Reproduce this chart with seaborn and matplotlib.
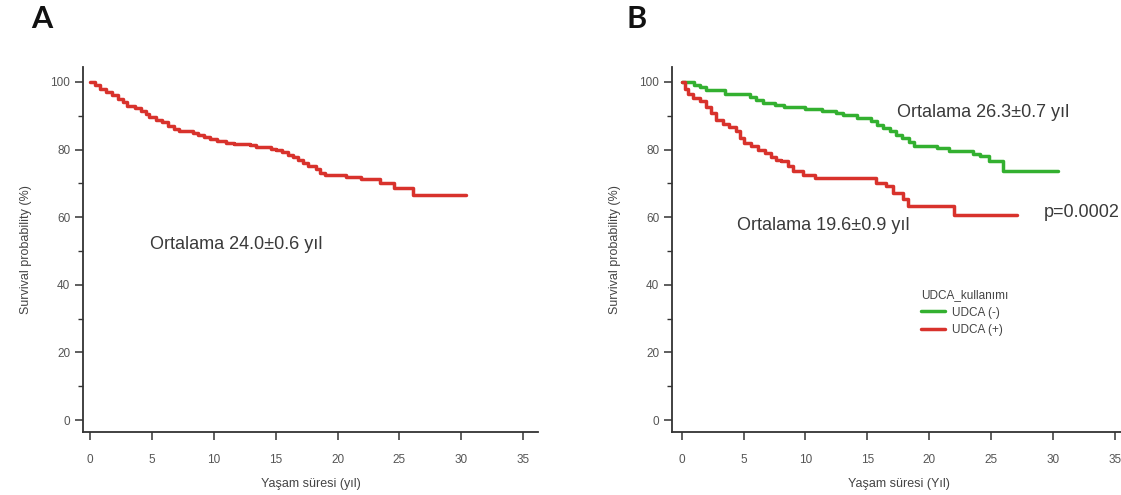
import numpy as np
import pandas as pd
import matplotlib
matplotlib.use("Agg")
import matplotlib.pyplot as plt
from matplotlib.ticker import MultipleLocator
import seaborn as sns

# Kaplan-Meier estimates: overall cohort (years, survival %)
overall_time = [0, 0.4, 0.8, 1.3, 1.8, 2.3, 2.7, 3.0, 3.6, 4.1, 4.5, 4.8, 5.3, 5.8,
                6.3, 6.8, 7.2, 8.3, 8.7, 9.2, 9.7, 10.3, 11.0, 11.6, 12.9, 13.4,
                14.6, 15.0, 15.5, 16.0, 16.4, 16.8, 17.2, 17.6, 18.3, 18.6, 19.0,
                20.7, 21.9, 23.4, 24.6, 26.1, 30.4]
overall_surv = [100, 99, 98, 97, 96, 95, 94, 93, 92.3, 91.5, 90.5, 89.5, 88.7, 88,
                87, 86, 85.4, 85, 84.2, 83.6, 83, 82.5, 82, 81.7, 81.2, 80.8,
                80.3, 79.8, 79.2, 78.5, 77.8, 76.8, 76, 75.2, 74.2, 73.2, 72.4,
                71.8, 71.2, 70.2, 68.5, 66.5, 66.5]

# UDCA (-) group
neg_time = [0, 1.0, 1.5, 2.0, 3.5, 5.5, 6.0, 6.6, 7.5, 8.3, 10.0, 11.3, 12.5, 13.0,
            14.2, 15.3, 15.8, 16.3, 16.8, 17.3, 17.8, 18.4, 18.8, 20.6, 21.6, 23.5,
            24.1, 24.8, 26.0, 30.4]
neg_surv = [100, 99.2, 98.5, 97.6, 96.3, 95.6, 94.6, 93.8, 93.2, 92.7, 92.1, 91.4,
            90.7, 90.2, 89.3, 88.4, 87.3, 86.4, 85.4, 84.4, 83.3, 82.3, 81.0, 80.4,
            79.7, 78.8, 78.0, 76.6, 73.6, 73.6]

# UDCA (+) group
pos_time = [0, 0.3, 0.5, 0.9, 1.5, 2.0, 2.4, 2.8, 3.3, 3.8, 4.4, 4.7, 5.0, 5.6, 6.2,
            6.7, 7.2, 7.6, 8.0, 8.6, 9.0, 9.8, 10.8, 15.7, 16.5, 17.1, 17.9, 18.3,
            22.0, 27.1]
pos_surv = [100, 98, 96.5, 95.2, 94.3, 92.7, 90.8, 88.8, 87.5, 86.8, 85.5, 83.5, 82.0,
            81.0, 80.0, 79.0, 77.8, 77.0, 76.5, 75.0, 73.6, 72.6, 71.7, 70.2, 69.2,
            67.3, 65.3, 63.3, 60.6, 60.6]

group_labels = ["UDCA (-)", "UDCA (+)"]
group_colors = ["#33b030", "#d8322c"]
overall_color = "#d8322c"

sns.set_style("ticks")
plt.rcParams["font.family"] = ["Liberation Sans", "DejaVu Sans"]

AX_COL = "#333333"
TXT_COL = "#444444"
TICK_COL = "#555555"

fig = plt.figure(figsize=(11.21, 4.95), dpi=100)
ax_a = fig.add_axes([0.0738, 0.1273, 0.4062, 0.738])
ax_b = fig.add_axes([0.5992, 0.1273, 0.4062, 0.738])

df_a = pd.DataFrame({"t": overall_time, "S": overall_surv})
sns.lineplot(data=df_a, x="t", y="S", ax=ax_a, color=overall_color, lw=2.5,
             drawstyle="steps-post", estimator=None)

df_b = pd.concat([
    pd.DataFrame({"t": neg_time, "S": neg_surv, "grp": group_labels[0]}),
    pd.DataFrame({"t": pos_time, "S": pos_surv, "grp": group_labels[1]}),
], ignore_index=True)
sns.lineplot(data=df_b, x="t", y="S", hue="grp", hue_order=group_labels,
             palette=group_colors, ax=ax_b, lw=2.5, drawstyle="steps-post",
             estimator=None)

for ax, xlab, xmin in [(ax_a, "Yaşam süresi (yıl)", -0.59),
                       (ax_b, "Yaşam süresi (Yıl)", -0.81)]:
    ax.set_xlim(xmin, xmin + 36.8)
    ax.set_ylim(-3.5, 104.5)
    ax.xaxis.set_major_locator(MultipleLocator(5))
    ax.yaxis.set_major_locator(MultipleLocator(20))
    ax.yaxis.set_minor_locator(MultipleLocator(10))
    for side in ["top", "right"]:
        ax.spines[side].set_visible(False)
    for side in ["left", "bottom"]:
        ax.spines[side].set_color(AX_COL)
        ax.spines[side].set_linewidth(1.3)
    ax.tick_params(axis="both", which="major", direction="out", length=6,
                   width=1.1, color=AX_COL, labelcolor=TICK_COL, labelsize=8.5)
    ax.tick_params(axis="x", which="major", pad=9.5)
    ax.tick_params(axis="y", which="major", pad=3)
    ax.tick_params(axis="y", which="minor", direction="out", length=3.5,
                   width=1.0, color=AX_COL)
    ax.set_xlabel(xlab, fontsize=9, color=TXT_COL, labelpad=9)
    ax.set_ylabel("Survival probability (%)", fontsize=9, color=TXT_COL,
                  labelpad=13)
    ax.set_facecolor("white")

ax_a.text(4.85, 51.8, "Ortalama 24.0±0.6 yıl", fontsize=13, color="#3a3a3a",
          va="center", ha="left")
ax_b.text(17.4, 90.9, "Ortalama 26.3±0.7 yıl", fontsize=13, color="#3a3a3a",
          va="center", ha="left")
ax_b.text(4.46, 57.4, "Ortalama 19.6±0.9 yıl", fontsize=13, color="#3a3a3a",
          va="center", ha="left")
ax_b.text(29.3, 61.5, "p=0.0002", fontsize=13, color="#3a3a3a",
          va="center", ha="left")

handles, labels = ax_b.get_legend_handles_labels()
leg = ax_b.legend(handles, labels, title="UDCA_kullanımı", loc="upper left",
                  bbox_to_anchor=(0.53, 0.415), frameon=False, fontsize=8.5,
                  title_fontsize=8.5, handlelength=2.0, handletextpad=0.6,
                  labelspacing=0.5, borderpad=0.2)
leg._legend_box.align = "left"
for t in leg.get_texts():
    t.set_color(TXT_COL)
leg.get_title().set_color(TXT_COL)

fig.text(0.0375, 0.962, "A", fontsize=22, fontweight="bold", family="Lato",
         ha="center", va="center", color="#111111")
fig.text(0.568, 0.962, "B", fontsize=22, fontweight="bold", family="Lato",
         ha="center", va="center", color="#111111")

fig.savefig("out.png", dpi=100, facecolor="white")
